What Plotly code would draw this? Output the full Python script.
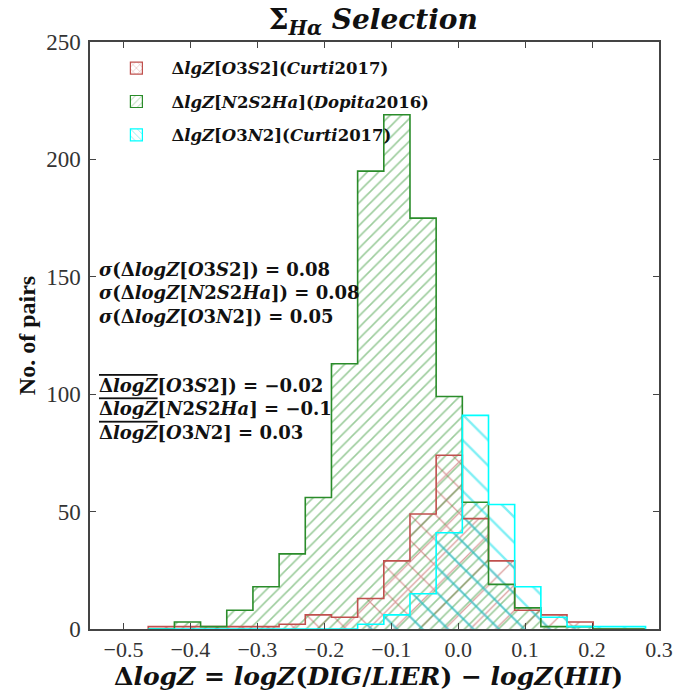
import numpy as np
import plotly.graph_objects as go

# Histogram binning shared by the three calibrations
bin_start = -0.463
bin_width = 0.0391
n_bins = 19

# Counts per bin
counts_o3s2 = [1, 1, 1, 1, 1, 2, 6, 5, 13, 29, 49, 74, 47, 29, 8, 6, 3, 0, 0]
counts_n2s2ha = [0, 3, 1, 8, 18, 32, 56, 113, 195, 219, 175, 99, 54, 19, 9, 1, 1, 0, 0]
counts_o3n2 = [0, 0, 0, 0, 0, 0, 0, 0, 2, 6, 15, 41, 91, 53, 18, 5, 1, 1, 1]

series_names = [
    "<b>Δ<i>lgZ</i>[<i>O</i>3<i>S</i>2](<i>Curti</i>2017)</b>",
    "<b>Δ<i>lgZ</i>[<i>N</i>2<i>S</i>2<i>Ha</i>](<i>Dopita</i>2016)</b>",
    "<b>Δ<i>lgZ</i>[<i>O</i>3<i>N</i>2](<i>Curti</i>2017)</b>",
]
series_counts = [counts_o3s2, counts_n2s2ha, counts_o3n2]
series_colors = ["#c0504d", "#2a8c2a", "#00ffff"]
hatch_colors = ["#b8403d", "#3a9a3a", "#00e0ea"]
series_hatch = ["x", "/", "\\"]
hatch_size = [18, 8, 18]
hatch_solidity = [0.14, 0.2, 0.13]

x_ticks = [-0.5, -0.4, -0.3, -0.2, -0.1, 0.0, 0.1, 0.2, 0.3]
y_ticks = [0, 50, 100, 150, 200, 250]

edges = bin_start + bin_width * np.arange(n_bins + 1)
centers = edges[:-1] + bin_width / 2

SERIF = "Liberation Serif"
MATH = "DejaVu Serif"

fig = go.Figure()

for i, (name, cnt, col) in enumerate(zip(series_names, series_counts, series_colors)):
    pat = dict(shape=series_hatch[i], fgcolor=hatch_colors[i], bgcolor="rgba(0,0,0,0)",
               size=hatch_size[i], solidity=hatch_solidity[i], fillmode="overlay")
    # hatched fill
    fig.add_trace(go.Bar(
        x=centers, y=cnt, width=bin_width,
        marker=dict(color="rgba(0,0,0,0)", line=dict(width=0), pattern=pat),
        showlegend=False, hoverinfo="skip", legendgroup=f"g{i}",
    ))
    # step outline
    fig.add_trace(go.Scatter(
        x=np.concatenate([[edges[0]], edges]),
        y=np.concatenate([[0], cnt, [0]]),
        mode="lines", line=dict(color=col, width=1.6, shape="hv"),
        showlegend=False, hoverinfo="skip", legendgroup=f"g{i}",
    ))
    # legend entry
    leg_pat = dict(pat, size=6, solidity=0.18)
    fig.add_trace(go.Bar(
        x=[None], y=[None], name=name, legendgroup=f"g{i}",
        marker=dict(color="rgba(0,0,0,0)", line=dict(width=1.2, color=col),
                    pattern=leg_pat),
    ))

sigma_text = (
    "<b><i>σ</i>(Δ<i>logZ</i>[<i>O</i>3<i>S</i>2]) = 0.08</b><br>"
    "<b><i>σ</i>(Δ<i>logZ</i>[<i>N</i>2<i>S</i>2<i>Ha</i>]) = 0.08</b><br>"
    "<b><i>σ</i>(Δ<i>logZ</i>[<i>O</i>3<i>N</i>2]) = 0.05</b>"
)
ol = '<span style="text-decoration:overline">Δ<i>logZ</i></span>'
mean_text = (
    f"<b>{ol}[<i>O</i>3<i>S</i>2]) = −0.02</b><br>"
    f"<b>{ol}[<i>N</i>2<i>S</i>2<i>Ha</i>] = −0.1</b><br>"
    f"<b>{ol}[<i>O</i>3<i>N</i>2] = 0.03</b>"
)

fig.add_annotation(text=sigma_text, xref="paper", yref="paper", x=0.012, y=0.573,
                   xanchor="left", yanchor="middle", align="left", showarrow=False,
                   font=dict(family=MATH, size=18, color="#111"))
fig.add_annotation(text=mean_text, xref="paper", yref="paper", x=0.012, y=0.374,
                   xanchor="left", yanchor="middle", align="left", showarrow=False,
                   font=dict(family=MATH, size=18, color="#111"))

# x-axis title
fig.add_annotation(text="<b>Δ<i>logZ</i> = <i>logZ</i>(<i>DIG</i>/<i>LIER</i>) − "
                        "<i>logZ</i>(<i>HII</i>)</b>",
                   xref="paper", yref="paper", x=0.49, y=-0.081,
                   xanchor="center", yanchor="middle", showarrow=False,
                   font=dict(family=MATH, size=25, color="#111"))

axis_common = dict(showline=True, linecolor="#444", linewidth=1.5, mirror="ticks",
                   ticks="inside", ticklen=6, tickcolor="#444", showgrid=False,
                   zeroline=False, automargin=False)

fig.update_xaxes(range=[-0.55, 0.3], tickvals=x_ticks,
                 ticktext=[f"{v:.1f}".replace("-", "−") for v in x_ticks],
                 ticklabelstandoff=0,
                 tickfont=dict(family=SERIF, size=22, color="#333"), **axis_common)
fig.update_yaxes(range=[0, 250], tickvals=y_ticks, ticklabelstandoff=3,
                 tickfont=dict(family=SERIF, size=23, color="#333"),
                 title=dict(text="<b>No. of pairs</b>",
                            font=dict(family=SERIF, size=24, color="#111"), standoff=4),
                 **axis_common)

fig.update_layout(
    width=675, height=690,
    margin=dict(l=90, r=16, t=42, b=61, autoexpand=False),
    paper_bgcolor="white", plot_bgcolor="white",
    barmode="overlay", bargap=0,
    title=dict(text="<b>Σ<sub><i>Hα</i></sub> <i>Selection</i></b>",
               x=0.553, xanchor="center", y=0.972, yanchor="middle",
               font=dict(family=MATH, size=28, color="#111")),
    legend=dict(x=0.02, y=0.985, xanchor="left", yanchor="top",
                bgcolor="rgba(0,0,0,0)", borderwidth=0,
                font=dict(family=MATH, size=16.5, color="#111"),
                itemwidth=60, tracegroupgap=9),
)

fig.write_html("out.html")
